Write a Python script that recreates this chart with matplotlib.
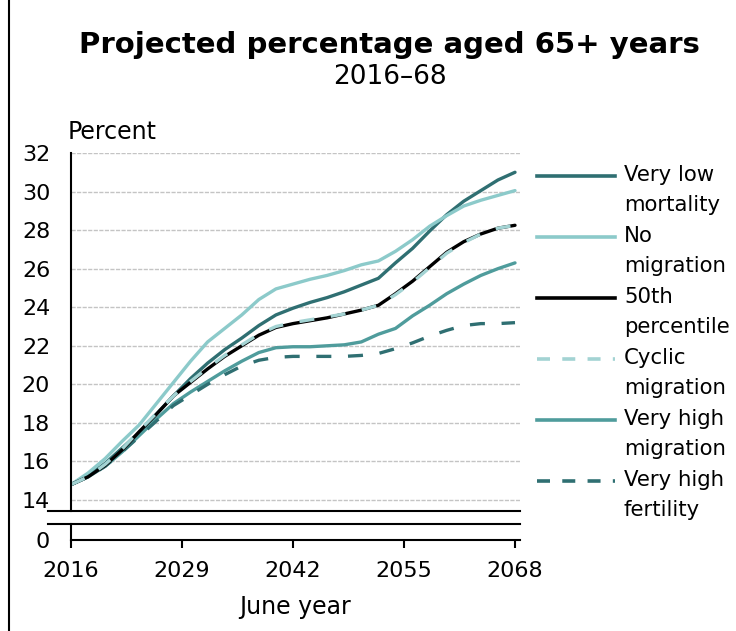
import matplotlib.pyplot as plt
from matplotlib.lines import Line2D

plt.rcParams['font.family'] = ['DejaVu Sans']

# Data (every 2 years)
years = list(range(2016, 2069, 2))
very_low_mortality = [14.8, 15.25, 15.9, 16.7, 17.5, 18.45, 19.4, 20.3, 21.1, 21.8, 22.4, 23.05, 23.6, 23.95,
                      24.25, 24.5, 24.8, 25.15, 25.5, 26.3, 27.05, 27.95, 28.8, 29.5, 30.05, 30.6, 31.0]
no_migration = [14.8, 15.4, 16.15, 17.05, 17.9, 19.0, 20.1, 21.2, 22.2, 22.9, 23.6, 24.4, 24.95, 25.2,
                25.45, 25.65, 25.9, 26.2, 26.4, 26.9, 27.5, 28.2, 28.75, 29.25, 29.55, 29.8, 30.05]
percentile_50 = [14.8, 15.2, 15.8, 16.6, 17.55, 18.45, 19.4, 20.1, 20.8, 21.45, 22.0, 22.55, 22.95, 23.15,
                 23.3, 23.45, 23.65, 23.85, 24.1, 24.7, 25.35, 26.1, 26.85, 27.4, 27.8, 28.1, 28.25]
cyclic_migration = [14.8, 15.2, 15.85, 16.65, 17.6, 18.5, 19.4, 20.15, 20.85, 21.5, 22.05, 22.6, 23.0, 23.2,
                    23.35, 23.5, 23.65, 23.85, 24.1, 24.65, 25.3, 26.05, 26.8, 27.35, 27.8, 28.1, 28.25]
very_high_migration = [14.8, 15.2, 15.75, 16.5, 17.35, 18.2, 19.0, 19.6, 20.15, 20.7, 21.2, 21.65, 21.9, 21.95,
                       21.95, 22.0, 22.05, 22.2, 22.6, 22.9, 23.55, 24.1, 24.7, 25.2, 25.65, 26.0, 26.3]
very_high_fertility = [14.8, 15.2, 15.75, 16.5, 17.3, 18.1, 18.9, 19.45, 20.0, 20.5, 20.95, 21.25, 21.4, 21.45,
                       21.45, 21.45, 21.45, 21.5, 21.6, 21.85, 22.15, 22.5, 22.8, 23.05, 23.15, 23.15, 23.2]

x_ticks = [2016, 2029, 2042, 2055, 2068]
y_ticks = [14, 16, 18, 20, 22, 24, 26, 28, 30, 32]

dark_teal = '#2f6f72'
light_teal = '#8ccaca'
mid_teal = '#4f9c9c'
dash = (0, (4.5, 5))

series = [
    ("Very low\nmortality", very_low_mortality, dark_teal, '-'),
    ("No\nmigration", no_migration, light_teal, '-'),
    ("50th\npercentile", percentile_50, 'black', '-'),
    ("Cyclic\nmigration", cyclic_migration, '#a3d3d3', dash),
    ("Very high\nmigration", very_high_migration, mid_teal, '-'),
    ("Very high\nfertility", very_high_fertility, dark_teal, dash),
]

W, H = 736, 631
fig = plt.figure(figsize=(W / 100, H / 100), dpi=100)

def fx(px):
    return px / W

def fy(py):
    return 1 - py / H

x0, x1 = 71, 520
xmax = 2016 + (x1 - x0) / ((515 - x0) / 52)

# main (broken) axes: 13.43 .. 32
ax = fig.add_axes([fx(x0), fy(511), fx(x1) - fx(x0), fy(153) - fy(511)])
ax.set_xlim(2016, xmax)
ax.set_ylim(13.43, 32)
ax.set_yticks(y_ticks)
ax.set_xticks([])
ax.yaxis.grid(True, color='#c4c4c4', linewidth=1.0, linestyle=(0, (3, 1)))
ax.set_axisbelow(True)
for s in ['top', 'right', 'bottom']:
    ax.spines[s].set_visible(False)
ax.spines['left'].set_linewidth(1.5)
ax.tick_params(axis='y', length=0, pad=15, labelsize=16)

# draw order: cyclic dashed on top of black
order = [0, 1, 4, 5, 2, 3]
for i in order:
    label, vals, col, ls = series[i]
    ax.plot(years, vals, color=col, linestyle=ls, linewidth=2.4, solid_capstyle='round')

# small axes showing zero
ax0 = fig.add_axes([fx(x0), fy(540), fx(x1) - fx(x0), fy(524) - fy(540)])
ax0.set_xlim(2016, xmax)
ax0.set_ylim(0, 1)
ax0.set_yticks([0])
ax0.set_xticks(x_ticks)
for s in ['top', 'right']:
    ax0.spines[s].set_visible(False)
ax0.spines['left'].set_linewidth(1.5)
ax0.spines['bottom'].set_linewidth(1.5)
ax0.tick_params(axis='y', length=0, pad=15, labelsize=16)
ax0.tick_params(axis='x', direction='out', length=6, width=1.5, pad=9, labelsize=16)
ax0.set_xlabel('June year', fontsize=17, labelpad=10)

# break lines
fig.add_artist(Line2D([fx(48), fx(x1)], [fy(511), fy(511)], color='black', linewidth=1.5))
fig.add_artist(Line2D([fx(48), fx(x1)], [fy(524), fy(524)], color='black', linewidth=1.5))
# left border
fig.add_artist(Line2D([fx(9), fx(9)], [0, 1], color='black', linewidth=1.5))

# titles
fig.text(fx(389), fy(45), 'Projected percentage aged 65+ years', ha='center', va='center',
         fontsize=21, fontweight='bold')
fig.text(fx(390), fy(77), '2016\u201368', ha='center', va='center', fontsize=19)
fig.text(fx(68), fy(132), 'Percent', ha='left', va='center', fontsize=17)

# manual legend, handle aligned with first text line
leg_y = [176, 237, 298, 359, 420, 481]
for (label, vals, col, ls), py in zip(series, leg_y):
    lls = (0, (3.6, 3.4)) if ls != '-' else '-'
    fig.add_artist(Line2D([fx(537), fx(615)], [fy(py), fy(py)], color=col, linestyle=lls, linewidth=2.6))
    fig.text(fx(624), fy(py - 11), label, ha='left', va='top', fontsize=15.3, linespacing=1.62)

fig.savefig('out.png', dpi=100)
